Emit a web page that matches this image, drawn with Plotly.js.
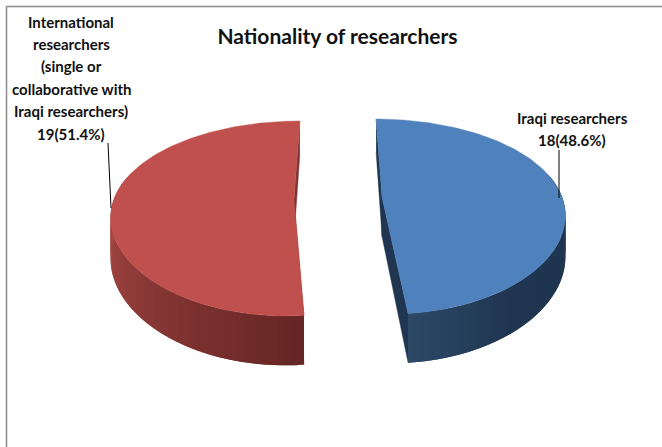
<!DOCTYPE html>
<html>
<head>
<meta charset="utf-8">
<script src="https://cdn.plot.ly/plotly-3.0.1.min.js"></script>
<style>html,body{margin:0;padding:0;background:#fff}#chart{width:662px;height:447px}</style>
</head>
<body>
<div id="chart"></div>
<script>
// Data
var categories = ["Iraqi researchers", "International researchers"];
var values = [18, 19];
var blueLabelLines = ["Iraqi researchers"];
var redLabelLines = ["International", "researchers", "(single or", "collaborative with", "Iraqi researchers)"];
var titleText = "Nationality of researchers";

// Drawing constants: a perspective view of an exploded pie
var W = 662, H = 447;
var total = values[0] + values[1];
var view = {vx: 338, vy: 104, depth: 93, rx: 180, ry: 75, kx: 0.155, ky: 0.2, thick: 39.5, pull: 44};
var TAU = Math.PI * 2;

function project(side, yShift, r, th, bottom) {
  var u = r * Math.sin(th), v = r * Math.cos(th);
  var X = view.vx + (side * view.pull + view.rx * u) / (1 + view.kx * v);
  var Y = view.vy + yShift + (view.depth + (bottom ? view.thick : 0) - view.ry * v) / (1 + view.ky * v);
  return [X, Y];
}
function hex(c) { return "rgb(" + c.map(Math.round).join(",") + ")"; }
function mix(a, b, t) { t = Math.max(0, Math.min(1, t)); return a.map(function (x, i) { return x + (b[i] - x) * t; }); }

var traces = [];
function poly(pts, color, lw) {
  traces.push({
    type: "scatter", mode: "lines", x: pts.map(function (p) { return p[0]; }), y: pts.map(function (p) { return p[1]; }),
    fill: "toself", fillcolor: color, line: {color: color, width: lw === undefined ? 0.4 : lw}, hoverinfo: "skip", showlegend: false
  });
}
function drawSlice(side, yShift, a0, a1, topColor, cutColor, shade) {
  var P = function (r, th, b) { return project(side, yShift, r, th, b); };
  // flat cut walls
  poly([P(1, a0, 0), P(0, 0, 0), P(0, 0, 1), P(1, a0, 1)], cutColor);
  poly([P(1, a1, 0), P(0, 0, 0), P(0, 0, 1), P(1, a1, 1)], cutColor);
  // curved wall, each band reaching under its neighbour so no seam shows
  var n = 110, strips = [], step = (a1 - a0) / n;
  for (var i = 0; i < n; i++) {
    var t0 = a0 + step * i;
    if (Math.cos(t0 + step / 2) > 0.25) continue;
    strips.push(t0);
  }
  strips.forEach(function (t0) {
    var pts = [], t1 = Math.min(a1, t0 + step * 2), k;
    for (k = 0; k <= 4; k++) pts.push(P(1, t0 + (t1 - t0) * k / 4, 0));
    for (k = 4; k >= 0; k--) pts.push(P(1, t0 + (t1 - t0) * k / 4, 1));
    poly(pts, shade(t0 + step / 2), 0);
  });
  // top face
  var top = [P(0, 0, 0)];
  for (var j = 0; j <= 180; j++) top.push(P(1, a0 + (a1 - a0) * j / 180, 0));
  top.push(P(0, 0, 0));
  poly(top, topColor, 0.4);
}

var split = TAU * values[0] / total;
drawSlice(1, 0, 0, split, "#4f81bd", "#1f3550", function (th) {
  return hex(mix([31, 53, 80], [44, 72, 102], (th - (split - 0.55)) / 0.55));
});
drawSlice(-1, 2, split, TAU, "#c0504d", "#7d3432", function (th) {
  return hex(mix([101, 37, 36], [170, 74, 71], (th - split) / (TAU * 0.75 - split)));
});

// leader lines
traces.push({type: "scatter", mode: "lines", x: [108, 111], y: [143, 208], line: {color: "#000", width: 1}, hoverinfo: "skip", showlegend: false});
traces.push({type: "scatter", mode: "lines", x: [559, 559], y: [150, 198], line: {color: "#000", width: 1}, hoverinfo: "skip", showlegend: false});

function pct(v) { return v + "(" + (100 * v / total).toFixed(1) + "%)"; }
var labelFont = {family: "Lato, 'Open Sans', sans-serif", size: 15, color: "#111"};
function note(text, x, y) {
  return {text: "<b>" + text + "</b>", x: x, y: y, xref: "x", yref: "y", showarrow: false, xanchor: "center", yanchor: "middle", font: labelFont};
}
var annotations = [];
redLabelLines.concat([pct(values[1])]).forEach(function (t, i) { annotations.push(note(t, 71, 21.5 + i * 22.4)); });
blueLabelLines.concat([pct(values[0])]).forEach(function (t, i) { annotations.push(note(t, 572, 118 + i * 22)); });

var layout = {
  width: W, height: H, margin: {l: 0, r: 0, t: 0, b: 0}, paper_bgcolor: "#fff", plot_bgcolor: "#fff", showlegend: false,
  title: {text: "<b>" + titleText + "</b>", x: 337.5 / W, xanchor: "center", y: 1 - 37 / H, yanchor: "middle",
    font: {family: "Lato, 'Open Sans', sans-serif", size: 21, color: "#111"}},
  xaxis: {range: [0, W], visible: false, fixedrange: true},
  yaxis: {range: [H, 0], visible: false, fixedrange: true},
  annotations: annotations,
  shapes: [
    {type: "line", xref: "x", yref: "y", x0: 6.5, x1: 6.5, y0: 6.5, y1: H, line: {color: "#8c8c8c", width: 1.5}},
    {type: "line", xref: "x", yref: "y", x0: 6.5, x1: W, y0: 6.5, y1: 6.5, line: {color: "#8c8c8c", width: 1.5}}
  ]
};
Plotly.newPlot("chart", traces, layout, {displayModeBar: false, staticPlot: true});
</script>
</body>
</html>
